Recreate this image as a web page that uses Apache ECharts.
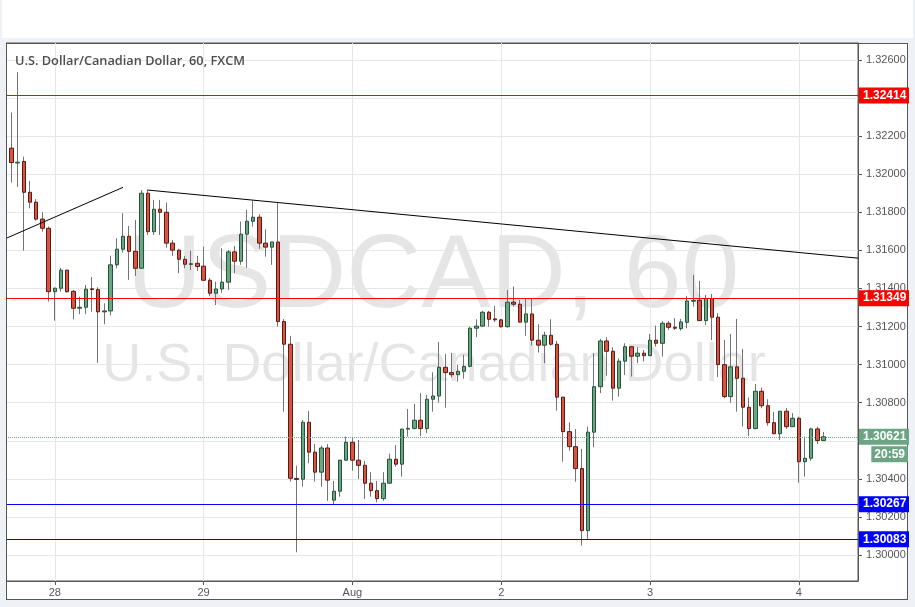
<!DOCTYPE html>
<html>
<head>
<meta charset="utf-8">
<script src="https://cdn.jsdelivr.net/npm/echarts@6/dist/echarts.min.js"></script>
<style>
html,body{margin:0;padding:0;background:#eef1f5;}
#wrap{position:relative;width:915px;height:607px;overflow:hidden;}
#head{position:absolute;left:2px;top:0;width:911px;height:38px;background:#fff;}
#frame{position:absolute;left:6px;top:43px;width:902px;height:557px;box-sizing:border-box;border:1px solid #555;background:#fff;}
#c{position:absolute;left:0;top:0;width:915px;height:607px;}
</style>
</head>
<body>
<div id="wrap"><div id="head"></div><div id="frame"></div><div id="c"></div></div>
<script>
// hourly candles, index of first candle relative to 28 Jul 00:00
const firstHour = -8;
const opens = [
 1.32215,1.32137,1.32059,1.32067,1.31905,1.31853,1.31764,1.31716,
 1.31383,1.31401,1.31496,1.31385,1.31296,1.31301,1.31398,1.31394,1.31277,1.31282,1.31524,1.31606,1.31674,1.31595,1.31506,1.31900,1.31698,1.31816,1.31800,1.31638,1.31601,1.31553,1.31526,1.31532,
 1.31517,1.31443,1.31375,1.31397,1.31433,1.31592,1.31543,1.31685,1.31753,1.31774,1.31638,1.31617,1.31644,1.31226,1.31107,1.30402,1.30398,1.30697,1.30540,1.30435,1.30562,1.30288,1.30335,1.30498,
 1.30592,1.30498,1.30471,1.30377,1.30338,1.30296,1.30377,1.30503,1.30477,1.30661,1.30665,1.30708,1.30664,1.30818,1.30835,1.30986,1.30958,1.30947,1.30965,1.30991,1.31191,1.31202,1.31275,1.31240,
 1.31235,1.31199,1.31328,1.31317,1.31223,1.31266,1.31128,1.31102,1.31154,1.31107,1.30829,1.30648,1.30569,1.30454,1.30128,1.30645,1.30884,1.31124,1.31070,1.30876,1.31018,1.31094,1.31044,1.31060,
 1.31047,1.31128,1.31112,1.31217,1.31196,1.31189,1.31222,1.31333,1.31338,1.31231,1.31347,1.31249,1.31000,1.30832,1.30988,1.30928,1.30776,1.30664,1.30860,1.30784,1.30695,1.30637,1.30755,1.30674,
 1.30718,1.30490,1.30508,1.30662,1.30601
];
const closes = [
 1.32137,1.32061,1.32063,1.31905,1.31853,1.31764,1.31716,1.31383,
 1.31401,1.31496,1.31383,1.31296,1.31301,1.31396,1.31394,1.31277,1.31282,1.31524,1.31606,1.31674,1.31595,1.31506,1.31900,1.31698,1.31816,1.31800,1.31638,1.31601,1.31553,1.31527,1.31530,1.31515,
 1.31443,1.31375,1.31397,1.31433,1.31592,1.31543,1.31685,1.31753,1.31774,1.31638,1.31617,1.31644,1.31226,1.31107,1.30403,1.30397,1.30697,1.30540,1.30435,1.30562,1.30393,1.30335,1.30498,1.30592,
 1.30498,1.30471,1.30377,1.30338,1.30296,1.30377,1.30503,1.30477,1.30661,1.30665,1.30708,1.30664,1.30818,1.30835,1.30986,1.30958,1.30947,1.30965,1.30991,1.31191,1.31202,1.31275,1.31238,1.31235,
 1.31199,1.31328,1.31317,1.31223,1.31266,1.31128,1.31102,1.31154,1.31107,1.30829,1.30648,1.30569,1.30454,1.30128,1.30645,1.30884,1.31124,1.31070,1.30876,1.31018,1.31094,1.31044,1.31060,1.31047,
 1.31128,1.31112,1.31217,1.31196,1.31191,1.31224,1.31334,1.31337,1.31231,1.31347,1.31249,1.31000,1.30832,1.30988,1.30928,1.30776,1.30664,1.30860,1.30784,1.30695,1.30637,1.30755,1.30674,1.30718,
 1.30490,1.30508,1.30662,1.30601,1.30621
];
const lows = [
 1.32130,1.31956,1.31933,1.31599,1.31821,1.31756,1.31698,1.31331,
 1.31231,1.31383,1.31378,1.31238,1.31265,1.31265,1.31278,1.31009,1.31212,1.31259,1.31506,1.31588,1.31445,1.31466,1.31503,1.31681,1.31681,1.31681,1.31614,1.31571,1.31480,1.31506,1.31497,1.31492,
 1.31440,1.31361,1.31313,1.31378,1.31392,1.31480,1.31524,1.31509,1.31725,1.31608,1.31567,1.31524,1.31199,1.30753,1.30385,1.30014,1.30359,1.30482,1.30385,1.30359,1.30284,1.30267,1.30306,1.30495,
 1.30443,1.30399,1.30294,1.30306,1.30277,1.30285,1.30375,1.30464,1.30412,1.30622,1.30660,1.30625,1.30640,1.30753,1.30800,1.30774,1.30932,1.30911,1.30926,1.30986,1.31144,1.31199,1.31199,1.31224,
 1.31194,1.31194,1.31305,1.31220,1.31151,1.31100,1.31063,1.31007,1.31100,1.30758,1.30490,1.30548,1.30385,1.30049,1.30083,1.30566,1.30850,1.30942,1.30811,1.30832,1.30946,1.30937,1.31007,1.31016,
 1.31044,1.31094,1.31042,1.31182,1.31182,1.31178,1.31191,1.31305,1.31229,1.31208,1.31129,1.30934,1.30823,1.30800,1.30753,1.30674,1.30625,1.30660,1.30771,1.30679,1.30635,1.30604,1.30662,1.30672,
 1.30380,1.30412,1.30496,1.30583,1.30599
];
const highs = [
 1.32225,1.32324,1.32536,1.32092,1.31965,1.31869,1.31800,1.31725,
 1.31405,1.31508,1.31498,1.31392,1.31357,1.31418,1.31460,1.31406,1.31322,1.31572,1.31664,1.31795,1.31728,1.31760,1.31917,1.31917,1.31865,1.31865,1.31851,1.31655,1.31608,1.31571,1.31599,1.31571,
 1.31620,1.31454,1.31436,1.31611,1.31602,1.31623,1.31751,1.31812,1.31861,1.31790,1.31711,1.31645,1.31848,1.31240,1.31151,1.30469,1.30709,1.30757,1.30583,1.30574,1.30583,1.30389,1.30500,1.30622,
 1.30618,1.30604,1.30494,1.30435,1.30389,1.30435,1.30532,1.30578,1.30663,1.30767,1.30793,1.30850,1.30841,1.30960,1.31119,1.31056,1.31060,1.30998,1.31051,1.31199,1.31238,1.31282,1.31282,1.31308,
 1.31240,1.31392,1.31410,1.31340,1.31349,1.31345,1.31212,1.31173,1.31238,1.31124,1.30831,1.30697,1.30662,1.30557,1.30674,1.31060,1.31135,1.31144,1.31091,1.31033,1.31112,1.31098,1.31091,1.31077,
 1.31161,1.31205,1.31229,1.31229,1.31244,1.31240,1.31361,1.31471,1.31440,1.31366,1.31371,1.31270,1.31130,1.31161,1.31240,1.31082,1.30827,1.30898,1.30879,1.30818,1.30751,1.30757,1.30772,1.30745,
 1.30727,1.30622,1.30669,1.30674,1.30646
];
const dayTicks = [0, 24, 48, 72, 96, 120];
const dayLabels = ['28', '29', 'Aug', '2', '3', '4'];
const priceTicks = [1.300,1.302,1.304,1.306,1.308,1.310,1.312,1.314,1.316,1.318,1.320,1.322,1.324,1.326];
const resistanceLevels = [1.32414, 1.31349];
const supportLevels = [1.30267, 1.30083];
const lastPrice = 1.30621;
const countdown = '20:59';
const trendUp = [[-7.87, 1.31663], [11, 1.31931]];
const trendDown = [[14.92, 1.31917], [129.55, 1.31559]];
const titleText = 'U.S. Dollar/Canadian Dollar, 60, FXCM';
const watermark1 = 'USDCAD, 60';
const watermark2 = 'U.S. Dollar/Canadian Dollar';

const wickData = opens.map((o, i) => [firstHour + i, o, closes[i], lows[i], highs[i]]);
const bodyData = opens.map((o, i) => [firstHour + i, o, closes[i], Math.min(o, closes[i]), Math.max(o, closes[i])]);

function levelLine(v, color, type) {
  return {
    yAxis: v,
    lineStyle: {color: color, type: type || 'solid', width: 1},
    label: {
      show: true, position: 'end', distance: 1,
      formatter: v.toFixed(5),
      backgroundColor: color, color: '#fff', fontWeight: 'bold',
      fontFamily: 'Liberation Sans, Arial, sans-serif', fontSize: 12,
      lineHeight: 13, padding: [2, 4, 1, 4], width: 42
    }
  };
}

const chart = echarts.init(document.getElementById('c'), null, {renderer: 'canvas'});

function overlays(yLast) {
  const g = [
    {type: 'text', left: 15, top: 55, z: 10, style: {text: titleText, fill: '#4d4d4d', font: '600 12.75px "Open Sans", sans-serif'}},
    {type: 'text', x: 433, y: 278, z: -1, silent: true, style: {text: watermark1, fill: 'rgba(0,0,0,0.1)', font: '104px "Liberation Sans", Arial, sans-serif', align: 'center', verticalAlign: 'middle'}},
    {type: 'text', x: 434, y: 366, z: -1, silent: true, style: {text: watermark2, fill: 'rgba(0,0,0,0.1)', font: '54px "Liberation Sans", Arial, sans-serif', align: 'center', verticalAlign: 'middle'}},
    // mask left of the plot so the first, partly hidden candle is cut at the frame
    {type: 'rect', z: 100, silent: true, shape: {x: 0, y: 43, width: 6, height: 557}, style: {fill: '#eef1f5'}},
    {type: 'line', z: 100, silent: true, shape: {x1: 6.5, y1: 43, x2: 6.5, y2: 600}, style: {stroke: '#555', lineWidth: 1}}
  ];
  if (yLast != null) {
    g.push({type: 'text', x: 908, y: yLast + 17.5, z: 20, style: {text: countdown, fill: '#fff', font: 'bold 12px "Liberation Sans", Arial, sans-serif', align: 'right', verticalAlign: 'middle', backgroundColor: '#6ba583', padding: [2, 3, 1, 3], lineHeight: 13}});
  }
  return g;
}

const option = {
  animation: false,
  backgroundColor: 'transparent',
  grid: {left: 6, top: 43, right: 57, bottom: 26, show: true, borderColor: '#555', borderWidth: 1, backgroundColor: 'transparent'},
  xAxis: {
    type: 'value', min: -7.87, max: 129.55,
    axisLine: {show: true, onZero: false, lineStyle: {color: '#555'}},
    axisTick: {show: true, length: 4, customValues: dayTicks, lineStyle: {color: '#555'}},
    axisLabel: {customValues: dayTicks, margin: 6, color: '#555', fontSize: 11, fontFamily: 'Liberation Sans Narrow, Liberation Sans, Arial, sans-serif',
      formatter: v => dayLabels[dayTicks.indexOf(Math.round(v))] || ''},
    splitLine: {show: true, lineStyle: {color: '#e6e6e6'}}
  },
  yAxis: {
    type: 'value', position: 'right', min: 1.298634, max: 1.326891,
    axisLine: {show: true, onZero: false, lineStyle: {color: '#555'}},
    axisTick: {show: true, length: 4, customValues: priceTicks, lineStyle: {color: '#555'}},
    axisLabel: {customValues: priceTicks, margin: 8, color: '#555', fontSize: 11, fontFamily: 'Liberation Sans, Arial, sans-serif',
      formatter: v => v.toFixed(5)},
    splitLine: {show: true, lineStyle: {color: '#e6e6e6'}}
  },
  graphic: overlays(null),
  series: [
    {
      type: 'candlestick', name: 'wick', data: wickData, encode: {x: 0, y: [1, 2, 3, 4]},
      barWidth: 0.1, silent: true, z: 2, clip: true,
      itemStyle: {color: '#737375', color0: '#737375', borderColor: '#737375', borderColor0: '#737375', borderWidth: 1},
      markLine: {
        silent: true, symbol: ['none', 'none'], animation: false, precision: 5,
        label: {show: false},
        lineStyle: {color: '#000', width: 1, type: 'solid'},
        data: [
          [{coord: trendUp[0]}, {coord: trendUp[1]}],
          [{coord: trendDown[0]}, {coord: trendDown[1]}]
        ]
      }
    },
    {
      type: 'candlestick', name: 'USDCAD', data: bodyData, encode: {x: 0, y: [1, 2, 3, 4]},
      barWidth: 4, z: 3, clip: true,
      itemStyle: {color: '#6ba583', color0: '#d75442', borderColor: '#225437', borderColor0: '#5b1a13', borderWidth: 1},
      markLine: {
        silent: true, symbol: ['none', 'none'], animation: false, precision: 5,
        data: [
          levelLine(resistanceLevels[0], '#ff0000'),
          levelLine(resistanceLevels[1], '#ff0000'),
          levelLine(lastPrice, '#6ba583', 'dotted'),
          levelLine(supportLevels[0], '#0000ff'),
          levelLine(supportLevels[1], '#0000ff')
        ]
      }
    }
  ]
};
chart.setOption(option);
const yLast = chart.convertToPixel({xAxisIndex: 0, yAxisIndex: 0}, [0, lastPrice])[1];
chart.setOption({graphic: overlays(yLast)}, {replaceMerge: ['graphic']});
</script>
</body>
</html>
